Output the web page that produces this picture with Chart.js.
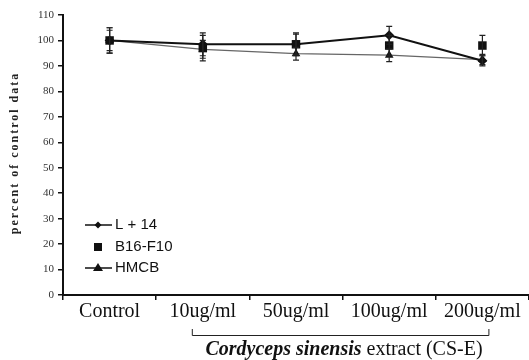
<!DOCTYPE html>
<html><head><meta charset="utf-8">
<script src="https://cdn.jsdelivr.net/npm/chart.js@4"></script>
<style>html,body{margin:0;padding:0;background:#fff}#wrap{width:529px;height:360px}</style>
</head><body><div id="wrap"><canvas id="c" width="529" height="360"></canvas></div>
<script>
const categories = ["Control", "10ug/ml", "50ug/ml", "100ug/ml", "200ug/ml"];
const yTicks = [0,10,20,30,40,50,60,70,80,90,100,110];
const seriesNames = ["L + 14", "B16-F10", "HMCB"];
const l14 = [100, 98.5, 98.5, 102, 92];
const b16 = [100, 97, 98.5, 98, 98];
const hmcb = [100, 96.5, 94.8, 94.2, 92.5];
const l14Err = [5, 4.5, 4.5, 3.5, 2];
const b16Err = [5, 5, 4, 4, 4];
const hmcbErr = [4, 3.5, 2.5, 2.5, 2];
const yTitle = "percent of control data";
const xTitleBold = "Cordyceps sinensis";
const xTitleRest = " extract (CS-E)";

const errorBars = {
  id: 'errorBars',
  afterDatasetsDraw(chart) {
    const ctx = chart.ctx, y = chart.scales.y;
    ctx.save();
    chart.data.datasets.forEach((ds, i) => {
      const meta = chart.getDatasetMeta(i);
      meta.data.forEach((pt, j) => {
        const e = ds.err[j], v = ds.data[j];
        const yt = y.getPixelForValue(v + e), yb = y.getPixelForValue(v - e);
        ctx.strokeStyle = '#222'; ctx.lineWidth = 1.2;
        ctx.beginPath();
        ctx.moveTo(pt.x, yt); ctx.lineTo(pt.x, yb);
        ctx.moveTo(pt.x - 3, yt); ctx.lineTo(pt.x + 3, yt);
        ctx.moveTo(pt.x - 3, yb); ctx.lineTo(pt.x + 3, yb);
        ctx.stroke();
      });
    });
    ctx.restore();
  }
};

const decorations = {
  id: 'decorations',
  afterDraw(chart) {
    const ctx = chart.ctx;
    ctx.save();
    ctx.translate(15, 153);
    ctx.rotate(-Math.PI/2);
    ctx.fillStyle = '#222';
    ctx.font = 'bold 12px "Liberation Serif"';
    ctx.letterSpacing = '2px';
    ctx.textAlign = 'center'; ctx.textBaseline = 'middle';
    ctx.fillText(yTitle, 0, 0);
    ctx.restore();

    ctx.save();
    ctx.fillStyle = '#111'; ctx.strokeStyle = '#111';
    ctx.font = '15px "Liberation Sans"';
    ctx.textBaseline = 'middle';
    const lx0 = 85, lx1 = 112, mx = 98, tx = 115;
    const rows = [225, 247, 268];
    ctx.lineWidth = 1.5;
    ctx.beginPath(); ctx.moveTo(lx0, rows[0]); ctx.lineTo(lx1, rows[0]); ctx.stroke();
    ctx.beginPath(); ctx.moveTo(mx, rows[0]-3.5); ctx.lineTo(mx+3.5, rows[0]); ctx.lineTo(mx, rows[0]+3.5); ctx.lineTo(mx-3.5, rows[0]); ctx.closePath(); ctx.fill();
    ctx.fillText(seriesNames[0], tx, rows[0]);
    ctx.fillRect(mx-4, rows[1]-4, 8, 8);
    ctx.fillText(seriesNames[1], tx, rows[1]);
    ctx.beginPath(); ctx.moveTo(lx0, rows[2]); ctx.lineTo(lx1, rows[2]); ctx.stroke();
    ctx.beginPath(); ctx.moveTo(mx, rows[2]-5); ctx.lineTo(mx+5, rows[2]+3); ctx.lineTo(mx-5, rows[2]+3); ctx.closePath(); ctx.fill();
    ctx.fillText(seriesNames[2], tx, rows[2]);
    ctx.restore();

    ctx.save();
    const xs = chart.scales.x;
    const bl = xs.getPixelForValue(1) - 11, br = xs.getPixelForValue(4) + 6;
    ctx.strokeStyle = '#222'; ctx.lineWidth = 1;
    ctx.beginPath();
    ctx.moveTo(bl + 0.5, 329); ctx.lineTo(bl + 0.5, 335.5); ctx.lineTo(br + 0.5, 335.5); ctx.lineTo(br + 0.5, 329);
    ctx.stroke();
    ctx.fillStyle = '#111';
    ctx.textBaseline = 'middle';
    const fb = 'italic bold 20px "Liberation Serif"', fr = '20px "Liberation Serif"';
    ctx.font = fb; const w1 = ctx.measureText(xTitleBold).width;
    ctx.font = fr; const w2 = ctx.measureText(xTitleRest).width;
    const cx = 344, sx = cx - (w1 + w2) / 2;
    ctx.textAlign = 'left';
    ctx.font = fb; ctx.fillText(xTitleBold, sx, 350);
    ctx.font = fr; ctx.fillText(xTitleRest, sx + w1, 350);
    ctx.restore();
  }
};

new Chart(document.getElementById('c'), {
  type: 'line',
  data: {
    labels: categories,
    datasets: [
      { label: seriesNames[0], data: l14, err: l14Err, borderColor: '#111', backgroundColor: '#111', borderWidth: 2,
        pointStyle: 'rectRot', pointRadius: 5, pointBorderWidth: 0, tension: 0 },
      { label: seriesNames[1], data: b16, err: b16Err, showLine: false, borderColor: '#111', backgroundColor: '#111',
        pointStyle: 'rect', pointRadius: 6, pointBorderWidth: 0 },
      { label: seriesNames[2], data: hmcb, err: hmcbErr, borderColor: '#666', backgroundColor: '#111', borderWidth: 1.2,
        pointStyle: 'triangle', pointRadius: 5, pointBorderWidth: 0, tension: 0 }
    ]
  },
  options: {
    responsive: false, animation: false,
    layout: { padding: { top: 15, right: 0, left: 0, bottom: 0 }, autoPadding: false },
    plugins: { legend: { display: false }, tooltip: { enabled: false } },
    scales: {
      x: {
        offset: true,
        grid: { offset: true, drawOnChartArea: false, tickLength: 5, color: '#111', lineWidth: 1.5 },
        border: { color: '#111', width: 2 },
        ticks: { color: '#111', font: { family: 'Liberation Serif', size: 20 }, padding: 0, maxRotation: 0, autoSkip: false },
        afterFit(s) { s.height = 65; s.paddingLeft = 0; s.paddingRight = 0; }
      },
      y: {
        min: 0, max: 110,
        afterBuildTicks(s) { s.ticks = yTicks.map(v => ({ value: v })); },
        grid: { drawOnChartArea: false, tickLength: 5, color: '#111', lineWidth: 1.5 },
        border: { color: '#111', width: 2 },
        ticks: { color: '#333', font: { family: 'Liberation Serif', size: 11 }, padding: 4 },
        afterFit(s) { s.width = 63; }
      }
    }
  },
  plugins: [errorBars, decorations]
});
</script></body></html>
